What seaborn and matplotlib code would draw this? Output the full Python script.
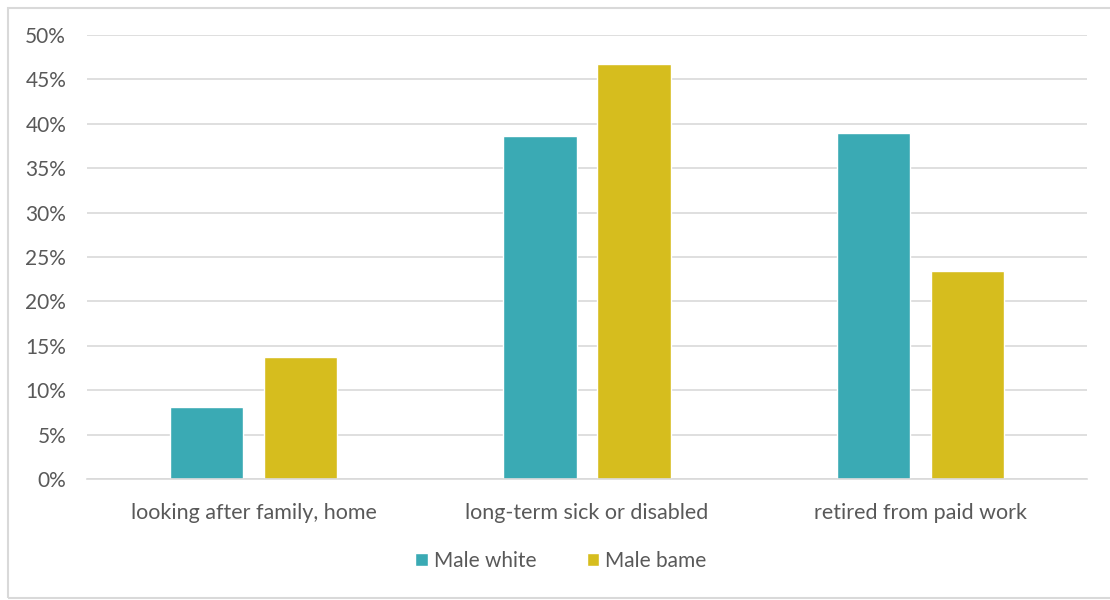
import matplotlib
matplotlib.use("Agg")
import matplotlib.pyplot as plt
from matplotlib.patches import Rectangle
from matplotlib.ticker import FuncFormatter, MultipleLocator
import seaborn as sns
import pandas as pd

categories = ["looking after family, home", "long-term sick or disabled", "retired from paid work"]
series = ["Male white", "Male bame"]
male_white = [8.1, 38.6, 39.0]
male_bame = [13.7, 46.7, 23.4]
colors = ["#3AAAB4", "#D6BD1E"]

df = pd.DataFrame({
    "category": categories * 2,
    "group": [series[0]] * 3 + [series[1]] * 3,
    "value": male_white + male_bame,
})

sns.set_theme(style="white")
plt.rcParams["font.family"] = ["Lato", "DejaVu Sans"]

text_color = "#595959"
grid_color = "#D9D9D9"

fig = plt.figure(figsize=(11.1, 6.0), dpi=100)
ax = fig.add_axes([87 / 1110, 1 - 479 / 600, 1000 / 1110, 444 / 600])

sns.barplot(data=df, x="category", y="value", hue="group", order=categories,
            hue_order=series, palette=colors, width=0.565, gap=0.22,
            saturation=1, ax=ax, legend=True)

ax.set_ylim(0, 50)
ax.set_xlim(-0.5, 2.5)
ax.yaxis.set_major_locator(MultipleLocator(5))
ax.yaxis.set_major_formatter(FuncFormatter(lambda v, _: f"{v:.0f}%"))
ax.grid(axis="y", color=grid_color, linewidth=1.2)
ax.set_axisbelow(True)
for side in ["top", "right", "left"]:
    ax.spines[side].set_visible(False)
ax.spines["bottom"].set_color(grid_color)
ax.spines["bottom"].set_linewidth(1.2)
ax.set_xlabel("")
ax.set_ylabel("")
ax.tick_params(axis="y", length=0, pad=15, labelsize=15, labelcolor=text_color)
ax.tick_params(axis="x", length=0, pad=17, labelsize=15.5, labelcolor=text_color)

handles, labels = ax.get_legend_handles_labels()
ax.legend(handles, labels, loc="center", bbox_to_anchor=(561 / 1110, 1 - 561 / 600),
          bbox_transform=fig.transFigure, ncol=2, frameon=False,
          fontsize=15, handlelength=0.6, handleheight=0.6,
          handletextpad=0.3, columnspacing=2.4, labelcolor=text_color)

# chart-area border
fig.patches.append(Rectangle((8 / 1110, 2 / 600), 1.2, 590 / 600,
                             transform=fig.transFigure, fill=False,
                             edgecolor=grid_color, linewidth=1.5))

fig.savefig("out.png", dpi=100, facecolor="white")
